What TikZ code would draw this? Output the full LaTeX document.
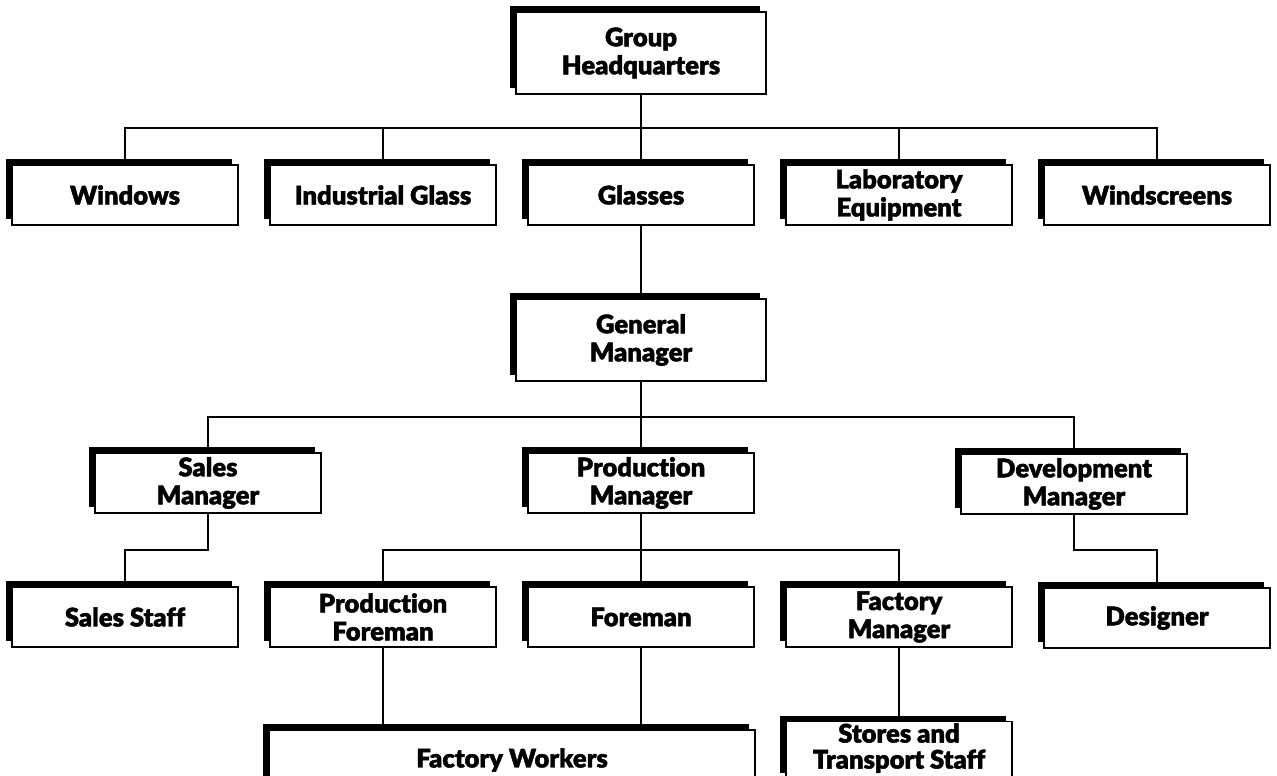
\documentclass[tikz,border=0pt]{standalone}
\usepackage{fontspec}
\newfontfamily\boxfont{Lato Black}[FakeBold=1.6, Ligatures=NoCommon]
\usetikzlibrary{shadows,backgrounds}
\tikzset{
  unit/.style={draw, line width=0.6pt, fill=white, align=center,
    font=\boxfont\fontsize{12.8}{14}\selectfont,
    minimum width=113pt, minimum height=30pt, inner sep=1pt,
    drop shadow={shadow xshift=-2.8pt, shadow yshift=2.8pt, opacity=1, fill=black}},
  bigunit/.style={unit, minimum width=125pt, minimum height=41pt},
  link/.style={line width=0.7pt}
}
\begin{document}
\begin{tikzpicture}[x=0.5pt, y=-0.5pt]
  \useasboundingbox (0,0) rectangle (1277,775);
  \clip (0,0) rectangle (1277,775);
  % top level
  \node[bigunit] (ghq) at (641,53) {Group\\Headquarters};
  % divisions
  \node[unit] (win) at (125,195) {Windows};
  \node[unit] (ind) at (383,195) {Industrial Glass};
  \node[unit] (gla) at (641,195) {Glasses};
  \node[unit] (lab) at (899,195) {Laboratory\\Equipment};
  \node[unit] (scr) at (1157,195) {Windscreens};
  % glasses division
  \node[bigunit] (gm) at (641,340) {General\\Manager};
  \node[unit] (sm) at (208,483) {Sales\\Manager};
  \node[unit] (pm) at (641,483) {Production\\Manager};
  \node[unit] (dm) at (1074,484) {Development\\Manager};
  \node[unit] (ss) at (125,617) {Sales Staff};
  \node[unit] (pf) at (383,617) {Production\\Foreman};
  \node[unit] (fo) at (641,617) {Foreman};
  \node[unit] (fm) at (899,617) {Factory\\Manager};
  \node[unit] (ds) at (1157,618) {Designer};
  \node[unit, minimum width=243pt] (fw) at (512,760) {Factory Workers};
  \node[unit, font=\boxfont\fontsize{12.8}{13}\selectfont,
    minimum height=28pt, text depth=4pt] (st) at (899,750) {Stores and\\Transport Staff};
  \coordinate (bus1) at (0,128);
  \coordinate (bus2) at (0,417);
  \coordinate (bus3) at (0,550);
  \begin{scope}[on background layer]
    \draw[link] (win.north) |- (bus1 -| ghq.south) -| (scr.north);
    \draw[link] (ghq.south) -- (gla.north);
    \foreach \n in {ind,lab}
      \draw[link] (\n.north) -- (\n.north |- bus1);
    \draw[link] (gla.south) -- (gm.north);
    \draw[link] (sm.north) |- (bus2 -| gm.south) -| (dm.north);
    \draw[link] (gm.south) -- (pm.north);
    \draw[link] (sm.south) -- (sm.south |- bus3) -| (ss.north);
    \draw[link] (dm.south) -- (dm.south |- bus3) -| (ds.north);
    \draw[link] (pf.north) |- (bus3 -| pm.south) -| (fm.north);
    \draw[link] (pm.south) -- (fo.north);
    \foreach \n in {pf,fo}
      \draw[link] (\n.south) -- (\n.south |- fw.north);
    \draw[link] (fm.south) -- (st.north);
  \end{scope}
\end{tikzpicture}
\end{document}
